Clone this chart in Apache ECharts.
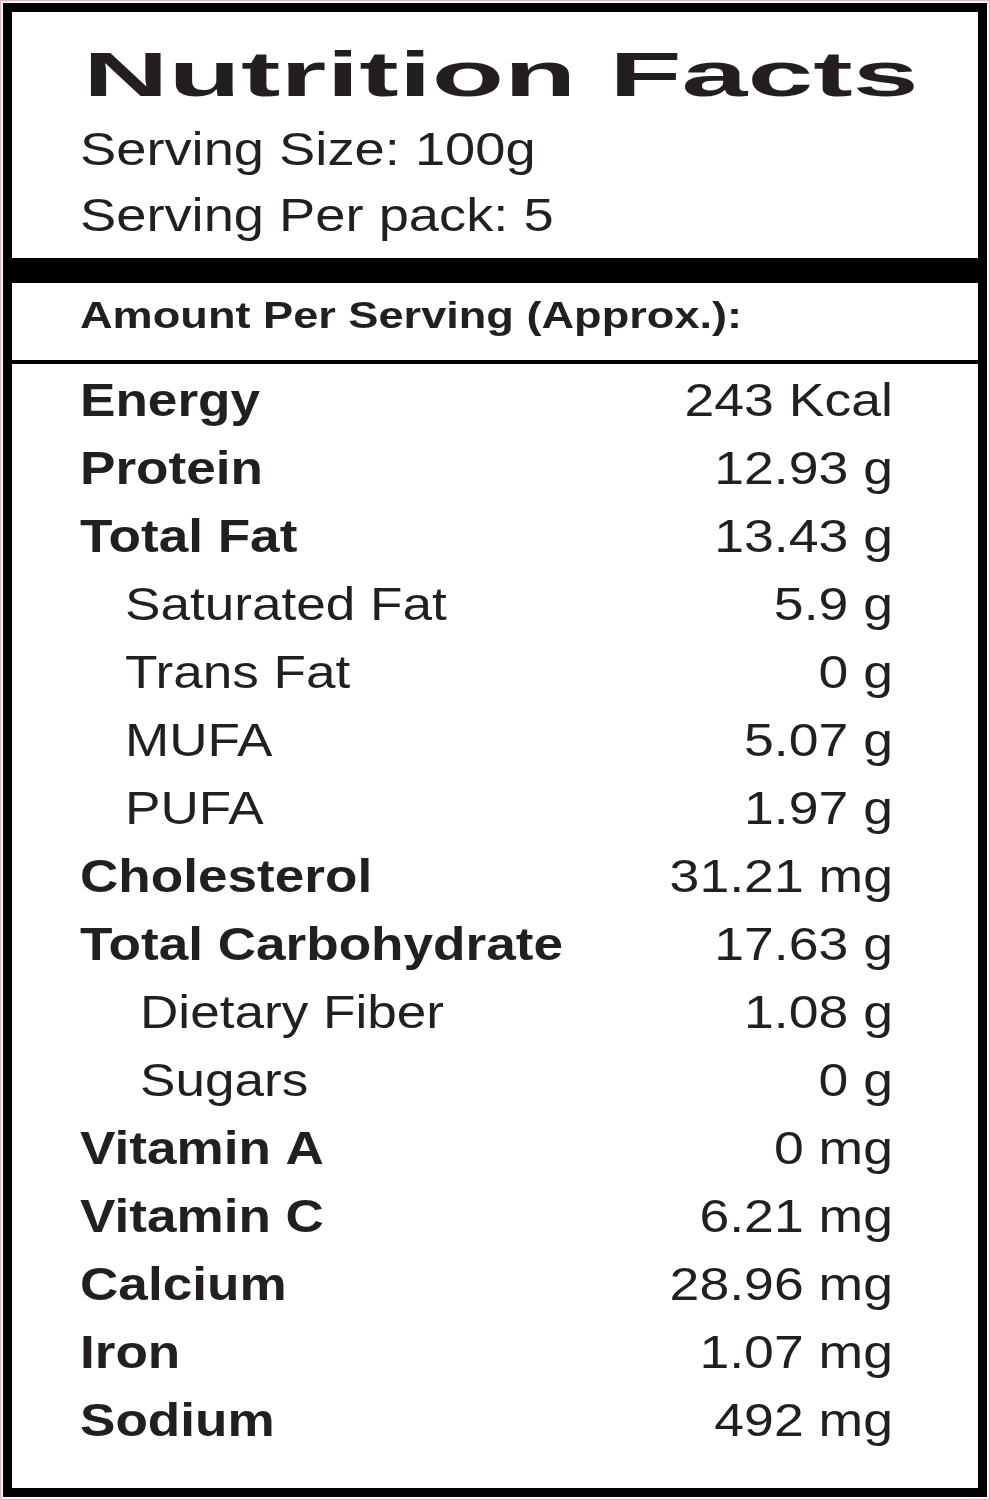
<!DOCTYPE html>
<html><head><meta charset="utf-8">
<script src="https://cdn.jsdelivr.net/npm/echarts@6/dist/echarts.min.js"></script>
<style>html,body{margin:0;padding:0;background:#fff}#c{width:990px;height:1500px}</style>
</head><body><div id="c"></div>
<script>
const title = 'Nutrition Facts';
const servingLines = ['Serving Size: 100g', 'Serving Per pack: 5'];
const amountHeader = 'Amount Per Serving (Approx.):';
const nutrients = ['Energy','Protein','Total Fat','Saturated Fat','Trans Fat','MUFA','PUFA','Cholesterol','Total Carbohydrate','Dietary Fiber','Sugars','Vitamin A','Vitamin C','Calcium','Iron','Sodium'];
const amounts = ['243 Kcal','12.93 g','13.43 g','5.9 g','0 g','5.07 g','1.97 g','31.21 mg','17.63 g','1.08 g','0 g','0 mg','6.21 mg','28.96 mg','1.07 mg','492 mg'];
const fatSubItems = ['Saturated Fat','Trans Fat','MUFA','PUFA'];
const carbSubItems = ['Dietary Fiber','Sugars'];

const ink = '#231f20';
const chart = echarts.init(document.getElementById('c'));
chart.setOption({
  animation:false,
  grid:{left:0,right:0,top:369,bottom:43},
  xAxis:{type:'value',min:0,max:990,show:false},
  yAxis:{type:'category',data:nutrients,inverse:true,show:false},
  graphic:[
    {type:'rect',shape:{x:0.5,y:0.5,width:989,height:1499},style:{fill:'none',stroke:'#e3b5c0',lineWidth:1.5}},
    {type:'rect',shape:{x:7.5,y:7.5,width:975,height:1485},style:{fill:'none',stroke:'#000',lineWidth:9}},
    {type:'rect',shape:{x:7,y:258,width:976,height:25},style:{fill:'#000'}},
    {type:'rect',shape:{x:7,y:360,width:976,height:4},style:{fill:'#000'}},
    {type:'text',x:83,y:79,scaleX:1.88,style:{text:title,font:'900 63px "Liberation Sans", Arial, sans-serif',fill:ink,verticalAlign:'middle'}},
    {type:'text',x:80,y:152,scaleX:1.18,style:{text:servingLines[0],font:'46px "Liberation Sans", Arial, sans-serif',fill:ink,verticalAlign:'middle'}},
    {type:'text',x:80,y:218,scaleX:1.18,style:{text:servingLines[1],font:'46px "Liberation Sans", Arial, sans-serif',fill:ink,verticalAlign:'middle'}},
    {type:'text',x:80,y:318,scaleX:1.22,style:{text:amountHeader,font:'bold 37px "Liberation Sans", Arial, sans-serif',fill:ink,verticalAlign:'middle'}}
  ],
  series:[{
    type:'custom',
    data:nutrients.map((n,i)=>[i,n,amounts[i]]),
    encode:{y:0},
    renderItem:function(params,api){
      const i=api.value(0);
      const name=nutrients[i], amt=amounts[i];
      const left=api.coord([80,i]), right=api.coord([893,i]);
      let x=left[0], bold=true;
      if(fatSubItems.includes(name)){x=api.coord([125,i])[0];bold=false;}
      if(carbSubItems.includes(name)){x=api.coord([140,i])[0];bold=false;}
      return {type:'group',children:[
        {type:'text',x:x,y:left[1],scaleX:1.13,style:{text:name,font:(bold?'bold ':'')+'47px "Liberation Sans", Arial, sans-serif',fill:ink,verticalAlign:'middle',align:'left'}},
        {type:'text',x:right[0],y:right[1],scaleX:1.14,style:{text:amt,font:'47px "Liberation Sans", Arial, sans-serif',fill:ink,verticalAlign:'middle',align:'right'}}
      ]};
    }
  }]
});
</script></body></html>
